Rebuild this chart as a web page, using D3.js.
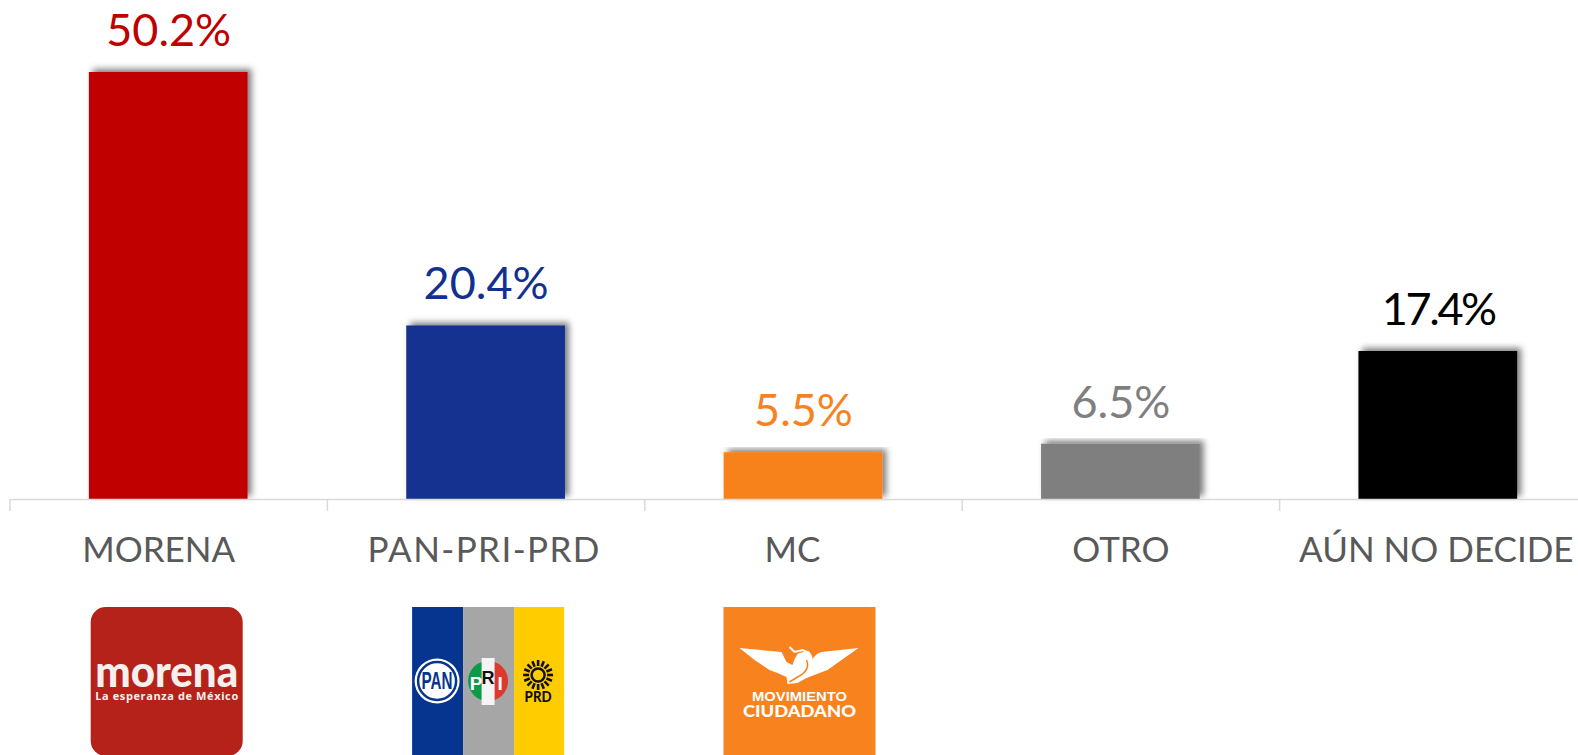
<!DOCTYPE html>
<html>
<head>
<meta charset="utf-8">
<script src="https://cdn.jsdelivr.net/npm/d3@7"></script>
<style>
  html, body { margin: 0; padding: 0; background: #fff; overflow: hidden; }
  svg { display: block; font-family: Lato, "Open Sans", sans-serif; }
</style>
</head>
<body>
<svg id="chart"></svg>
<script>
// Data
const categories = ["MORENA", "PAN-PRI-PRD", "MC", "OTRO", "AÚN NO DECIDE"];
const values = [50.2, 20.4, 5.5, 6.5, 17.4];
const barColors = ["#c00000", "#123090", "#f7821e", "#7f7f7f", "#000000"];
const labelColors = ["#c00000", "#123090", "#f7821e", "#7f7f7f", "#000000"];
// the category captions sit slightly off the tick centre in the original
const captionNudge = [-10, -2, -11, 0, -2];

const width = 1578, height = 755;
const baseline = 499, barTop = 72;

const svg = d3.select("#chart").attr("width", width).attr("height", height);

const defs = svg.append("defs");
defs.append("filter")
    .attr("id", "barShadow")
    .attr("x", "-10%").attr("y", "-10%")
    .attr("width", "125%").attr("height", "120%")
  .append("feDropShadow")
    .attr("dx", 4).attr("dy", -3)
    .attr("stdDeviation", 3)
    .attr("flood-color", "#000")
    .attr("flood-opacity", 0.5);

// Scales
const x = d3.scaleBand()
    .domain(categories)
    .range([10, 1597])
    .paddingInner(0.5)
    .paddingOuter(0.25);

const y = d3.scaleLinear()
    .domain([0, 50.2])
    .range([baseline, barTop]);

// Bars
svg.append("g")
  .selectAll("rect")
  .data(categories)
  .join("rect")
    .attr("x", d => x(d) - 0.5)
    .attr("y", (d, i) => y(values[i]))
    .attr("width", x.bandwidth())
    .attr("height", (d, i) => y(0) - y(values[i]))
    .attr("fill", (d, i) => barColors[i])
    .attr("filter", "url(#barShadow)");

// Axis
const axis = svg.append("g")
    .attr("transform", "translate(0," + baseline + ")")
    .call(d3.axisBottom(x).tickSize(0).tickPadding(38));

axis.select(".domain").attr("stroke", "#d9d9d9").attr("stroke-width", 1.5);
axis.selectAll(".tick text")
    .attr("dx", (d, i) => captionNudge[i])
    .attr("fill", "#595959")
    .style("font-family", "Lato, sans-serif")
    .style("font-size", "35px")
    .style("letter-spacing", d => d === "PAN-PRI-PRD" ? "1.4px" : null);

// tick marks sit between the categories
axis.selectAll(".sep")
  .data(categories)
  .join("line")
    .attr("class", "sep")
    .attr("x1", d => x(d) - x.step() * 0.25)
    .attr("x2", d => x(d) - x.step() * 0.25)
    .attr("y1", 0)
    .attr("y2", 12)
    .attr("stroke", "#d9d9d9")
    .attr("stroke-width", 1.5);

// Value labels
svg.append("g")
  .selectAll("text")
  .data(categories)
  .join("text")
    .attr("x", d => x(d) + x.bandwidth() / 2)
    .attr("y", (d, i) => y(values[i]) - 26)
    .attr("text-anchor", "middle")
    .attr("fill", (d, i) => labelColors[i])
    .style("font-size", "45px")
    .style("letter-spacing", d => d === "AÚN NO DECIDE" ? "-2.4px" : null)
    .text((d, i) => d3.format(".1f")(values[i]) + "%");

// Logos
const logoTop = 607;
function logo(cat, nudge) {
  return svg.append("g")
    .attr("transform", "translate(" + (x(cat) + x.bandwidth() / 2 + nudge) + "," + logoTop + ")");
}

// morena
const lm = logo("MORENA", -2);
lm.append("rect").attr("x", -76).attr("y", 0).attr("width", 152).attr("height", 149)
  .attr("rx", 15).attr("fill", "#b5221a");
lm.append("text").attr("x", 0).attr("y", 80).attr("text-anchor", "middle")
  .attr("fill", "#f5f0ee").attr("textLength", 143).attr("lengthAdjust", "spacingAndGlyphs")
  .style("font", "900 44px Lato, sans-serif").text("morena");
lm.append("text").attr("x", 0).attr("y", 93).attr("text-anchor", "middle")
  .attr("fill", "#f5f0ee").attr("textLength", 143).attr("lengthAdjust", "spacing")
  .style("font", "bold 11px 'Open Sans', sans-serif").text("La esperanza de México");

// PAN-PRI-PRD
const lc = logo("PAN-PRI-PRD", 2);
lc.append("rect").attr("x", -76).attr("width", 51).attr("height", 148).attr("fill", "#06358f");
lc.append("rect").attr("x", -25).attr("width", 51).attr("height", 148).attr("fill", "#a6a6a6");
lc.append("rect").attr("x", 26).attr("width", 50).attr("height", 148).attr("fill", "#ffcc00");

lc.append("circle").attr("cx", -51).attr("cy", 74).attr("r", 22.5).attr("fill", "#fff");
lc.append("circle").attr("cx", -51).attr("cy", 74).attr("r", 19).attr("fill", "none")
  .attr("stroke", "#06358f").attr("stroke-width", 2.5);
lc.append("text").attr("x", -51).attr("y", 82).attr("text-anchor", "middle")
  .attr("fill", "#06358f").attr("textLength", 31).attr("lengthAdjust", "spacingAndGlyphs")
  .style("font", "bold 24px 'Liberation Sans', sans-serif").text("PAN");

lc.append("path").attr("d", "M0,54 A20,20 0 0 0 0,94 Z").attr("fill", "#0b9a48");
lc.append("path").attr("d", "M0,54 A20,20 0 0 1 0,94 Z").attr("fill", "#dc3a2c");
lc.append("rect").attr("x", -6.5).attr("y", 51).attr("width", 13).attr("height", 47).attr("fill", "#f4f4f4");
lc.append("text").attr("x", -12).attr("y", 83).attr("text-anchor", "middle").attr("fill", "#fff")
  .style("font", "bold 19px 'Liberation Sans', sans-serif").text("P");
lc.append("text").attr("x", 0).attr("y", 77).attr("text-anchor", "middle").attr("fill", "#111")
  .style("font", "bold 18px 'Liberation Sans', sans-serif").text("R");
lc.append("text").attr("x", 12).attr("y", 83).attr("text-anchor", "middle").attr("fill", "#fff")
  .style("font", "bold 19px 'Liberation Sans', sans-serif").text("I");

const sun = lc.append("g").attr("transform", "translate(50,68)");
sun.append("circle").attr("r", 6.5).attr("fill", "none").attr("stroke", "#111").attr("stroke-width", 2.5);
sun.selectAll("line")
  .data(d3.range(16))
  .join("line")
    .attr("x1", d => 9 * Math.cos(d * Math.PI / 8))
    .attr("y1", d => 9 * Math.sin(d * Math.PI / 8))
    .attr("x2", d => 15 * Math.cos(d * Math.PI / 8))
    .attr("y2", d => 15 * Math.sin(d * Math.PI / 8))
    .attr("stroke", "#111").attr("stroke-width", 2.6);
lc.append("text").attr("x", 50).attr("y", 95).attr("text-anchor", "middle").attr("fill", "#111")
  .attr("textLength", 27).attr("lengthAdjust", "spacingAndGlyphs")
  .style("font", "900 15px Lato, sans-serif").text("PRD");

// MC
const lo = logo("MC", -4);
lo.append("rect").attr("x", -76).attr("width", 152).attr("height", 148).attr("fill", "#f7821e");
lo.append("path")
  .attr("fill", "#fff")
  .attr("d", "M-60,41 L-18,45 L-13,55 L-7,58 C-5,52 -3,47 0,46 L8,44 C11,46 13,48 13,52 " +
             "C15,49 18,46 22,45 L59,41 L35,58 L28,63 L20,66 L7,71 L-2,76 L-12,77 L-13,70 " +
             "L-22,66 L-30,63 L-45,53 Z");
lo.append("path").attr("d", "M-10,40 L-5,45 L3,43 L10,46")
  .attr("fill", "none").attr("stroke", "#fff").attr("stroke-width", 2);
lo.append("path").attr("d", "M7,53 C10,60 6,66 -2,70 L-10,75").attr("fill", "none")
  .attr("stroke", "#f7821e").attr("stroke-width", 1.5);
lo.append("text").attr("x", 0).attr("y", 94).attr("text-anchor", "middle").attr("fill", "#fff")
  .attr("textLength", 95).attr("lengthAdjust", "spacingAndGlyphs")
  .style("font", "bold 13px 'Liberation Sans', sans-serif").text("MOVIMIENTO");
lo.append("text").attr("x", 0).attr("y", 110).attr("text-anchor", "middle").attr("fill", "#fff")
  .attr("textLength", 113).attr("lengthAdjust", "spacingAndGlyphs")
  .style("font", "900 17px Lato, sans-serif").text("CIUDADANO");
</script>
</body>
</html>
